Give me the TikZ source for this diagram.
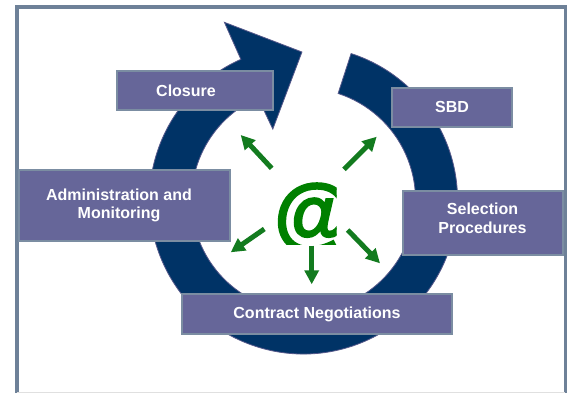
\documentclass[tikz,border=0pt]{standalone}
\usepackage{fontspec}
\setmainfont{Liberation Sans}
\newfontfamily\atfont{Liberation Sans}[BoldFeatures = {FakeBold = 2.5}]
\usetikzlibrary{positioning,arrows.meta}
\definecolor{ringblue}{HTML}{003366}
\definecolor{ringedge}{HTML}{56588A}
\definecolor{boxfill}{HTML}{666699}
\definecolor{boxedge}{HTML}{7B8DA2}
\definecolor{framegray}{HTML}{6E8198}
\definecolor{atgreen}{HTML}{008000}
\definecolor{arrowgreen}{HTML}{137B1F}

\begin{document}
\begin{tikzpicture}[
        x = 1bp, y = 1bp,
        every node/.style = {font = \bfseries\fontsize{16bp}{18.5bp}\selectfont},
        greenarrow/.style = {draw = arrowgreen, line width = 5bp, -{Triangle[length = 14bp, width = 14bp]}}
    ]
    \tikzstyle{stage} = [rectangle, draw = boxedge, line width = 2bp, fill = boxfill, text = white, align = center, inner sep = 0pt];
    \useasboundingbox (0,0) rectangle (567,393);
    \draw [framegray, line width = 3.5bp] (17,0) -- (17,386.2) -- (565.3,386.2) -- (565.3,0);
    \draw [black!12, line width = 1.5bp] (17,0.7) -- (565.3,0.7);
    \coordinate (c) at (303.5,193);
    \filldraw [fill = ringblue, draw = ringedge, line width = 0.8bp]
        ([shift = {(72:154)}]c) arc [start angle = 72, end angle = -246, radius = 154]
        -- ([shift = {(114:194.5)}]c) -- ([shift = {(90.6:148)}]c) -- ([shift = {(113.4:77.3)}]c)
        -- ([shift = {(114:112)}]c) arc [start angle = -246, end angle = 72, radius = 112] -- cycle;
    \node [stage, minimum width = 156bp, minimum height = 39bp] (closure) at (195,302.5) {Closure\hspace*{18bp}};
    \node [stage, minimum width = 120bp, minimum height = 39bp] (sbd) at (452,286) {SBD};
    \node [stage, minimum width = 211bp, minimum height = 71bp] (admin) at (124.5,187.5) {Administration and\hspace*{11bp}\\Monitoring\hspace*{11bp}};
    \node [stage, minimum width = 160bp, minimum height = 64bp, text depth = 10bp] (selection) at (482.5,170) {Selection\\Procedures};
    \node [stage, minimum width = 270bp, minimum height = 40bp] (contract) at (317,79) {Contract Negotiations};
    \begin{scope}
        \clip (250,149) rectangle (336.7,230);
        \node [inner sep = 0pt, anchor = north west, text = atgreen, font = \atfont\bfseries\fontsize{80bp}{80bp}\selectfont] (at) at (274,210) {@};
    \end{scope}
    \coordinate (nwtail) at (271.7,224.7);
    \coordinate (nwtip) at (240.7,258);
    \coordinate (netail) at (344,223.7);
    \coordinate (netip) at (376.7,256.3);
    \coordinate (swtail) at (264.3,164);
    \coordinate (swtip) at (230.7,140.7);
    \coordinate (stail) at (311.7,147.3);
    \coordinate (stip) at (311.7,108.7);
    \coordinate (setail) at (347.7,163);
    \coordinate (setip) at (380,129.7);
    \draw [greenarrow] (nwtail) -- (nwtip);
    \draw [greenarrow] (netail) -- (netip);
    \draw [greenarrow] (swtail) -- (swtip);
    \draw [greenarrow] (stail) -- (stip);
    \draw [greenarrow] (setail) -- (setip);
\end{tikzpicture}
\end{document}
